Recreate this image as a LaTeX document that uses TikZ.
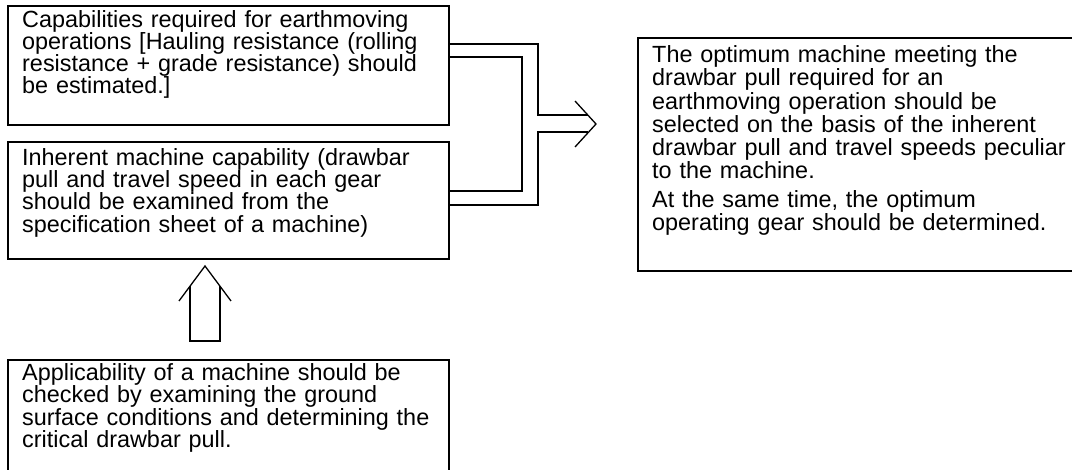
\documentclass[tikz,border=0pt]{standalone}
\usepackage{fontspec}
\setmainfont{Liberation Sans}
\begin{document}
\begin{tikzpicture}[x=1pt,y=-1pt,
  box/.style={draw=black, line width=2pt, anchor=north west, inner sep=0pt},
  txt/.style={anchor=base west, inner sep=0pt, align=left, text width=#1,
    font=\fontsize{23.4}{22.2}\selectfont},
  rtxt/.style={anchor=base west, inner sep=0pt, align=left, text width=#1,
    font=\fontsize{23.4}{23.3}\selectfont},
  conn/.style={draw=black, line width=2pt},
  head/.style={draw=black, line width=1.3pt}]
\useasboundingbox[fill=white] (0,0) rectangle (1072,470);
\begin{scope}
\clip (0,0) rectangle (1072,470);
% boxes
\node[box, minimum width=441pt, minimum height=119pt] (b1) at (7,5) {};
\node[box, minimum width=441pt, minimum height=117pt] (b2) at (7,141) {};
\node[box, overlay, minimum width=441pt, minimum height=140pt] (b3) at (7,359) {};
\node[box, overlay, minimum width=445pt, minimum height=233pt] (b4) at (637,37) {};
% texts
\node[txt=425pt] (t1) at (22,27.3) {Capabilities required for earthmoving\\operations [Hauling resistance (rolling\\resistance + grade resistance) should\\be estimated.]};
\node[txt=425pt] (t2) at (22,165.5) {Inherent machine capability (drawbar\\pull and travel speed in each gear\\should be examined from the\\specification sheet of a machine)};
\node[txt=425pt] (t3) at (22,380.7) {Applicability of a machine should be\\checked by examining the ground\\surface conditions and determining the\\critical drawbar pull.};
\node[rtxt=415pt] (t4) at (652,62.5) {The optimum machine meeting the\\drawbar pull required for an\\earthmoving operation should be\\selected on the basis of the inherent\\drawbar pull and travel speeds peculiar\\to the machine.\\[5pt]At the same time, the optimum\\operating gear should be determined.};
% merging connector and arrow to the right box
\coordinate (o1) at (538,44);
\coordinate (o2) at (538,205);
\coordinate (i1) at (522,57);
\coordinate (i2) at (522,191);
\coordinate (sT) at (588,115);
\coordinate (sB) at (588,132);
\coordinate (tip) at (596,124);
\draw[conn] (b1.east |- o1) -- (o1) -- (o1 |- sT) -- (sT);
\draw[conn] (sB) -- (o2 |- sB) -- (o2) -- (b2.east |- o2);
\draw[conn] (b1.east |- i1) -- (i1) -- (i2) -- (b2.east |- i2);
\draw[head] (575,101) -- (tip) -- (575,147);
% upward arrow from bottom box
\coordinate (upTip) at (205,266);
\draw[conn] (190,286) -- (190,341) -- (220,341) -- (220,286);
\draw[head] (179,301) -- (upTip) -- (231,301);
\end{scope}
\end{tikzpicture}
\end{document}
